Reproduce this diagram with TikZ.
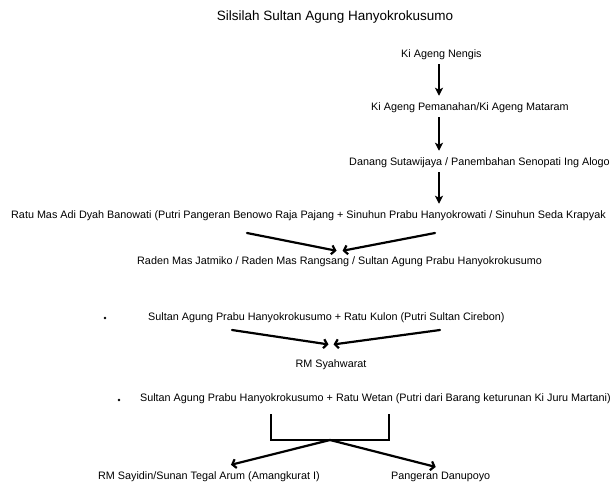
\documentclass[tikz,border=0pt]{standalone}
\usepackage{fontspec}
\setmainfont{Liberation Sans}
\usetikzlibrary{arrows.meta}

\begin{document}
\begin{tikzpicture}[x=1pt, y=-1pt, font=\fontsize{10.8}{13}\selectfont]
	\tikzstyle{person} = [inner sep=1pt, anchor=west]
	\tikzstyle{arrow} = [line width=2.1pt, -{Stealth[length=8pt,width=8pt,inset=2pt]}, shorten <=3pt, shorten >=6pt]
	\tikzstyle{branch} = [line width=2.2pt, line cap=round, -{Straight Barb[length=3.5pt,width=9pt]}]
	\tikzstyle{dot} = [circle, fill, inner sep=0pt, minimum size=2.6pt]
	
	\useasboundingbox (0,0) rectangle (613,482);
	
	% Title
	\node (title) [font=\fontsize{13.5}{16}\selectfont] at (335,17) {Silsilah Sultan Agung Hanyokrokusumo};
	
	% Line of descent
	\node (nengis) [person] at (400,55) {Ki Ageng Nengis};
	\node (pemanahan) [person] at (370,108) {Ki Ageng Pemanahan/Ki Ageng Mataram};
	\node (danang) [person] at (348,163) {Danang Sutawijaya / Panembahan Senopati Ing Alogo};
	\node (ratu) [person] at (10,216) {Ratu Mas Adi Dyah Banowati (Putri Pangeran Benowo Raja Pajang + Sinuhun Prabu Hanyokrowati / Sinuhun Seda Krapyak};
	\node (raden) [person] at (136,262) {Raden Mas Jatmiko / Raden Mas Rangsang / Sultan Agung Prabu Hanyokrokusumo};
	
	% First marriage
	\node (dot1) [dot] at (105,318) {};
	\node (kulon) [person] at (147,318) {Sultan Agung Prabu Hanyokrokusumo + Ratu Kulon (Putri Sultan Cirebon)};
	\node (syahwarat) at (331,365) {RM Syahwarat};
	
	% Second marriage
	\node (dot2) [dot] at (119,400) {};
	\node (wetan) [person, anchor=east] at (612,399) {Sultan Agung Prabu Hanyokrokusumo + Ratu Wetan (Putri dari Barang keturunan Ki Juru Martani)};
	\node (sayidin) [person] at (97,477) {RM Sayidin/Sunan Tegal Arum (Amangkurat I)};
	\node (danupoyo) [person] at (390,477) {Pangeran Danupoyo};
	
	% Free ends
	\coordinate (ratuL) at (247,233);
	\coordinate (ratuR) at (435,233);
	\coordinate (kulonL) at (232,330);
	\coordinate (kulonR) at (440,330);
	\coordinate (bl) at (271,414);
	\coordinate (br) at (389,414);
	\coordinate (fork) at (330,440);
	
	% Arrows
	\draw [arrow] (439,0 |- nengis.south) -- (439,0 |- pemanahan.north);
	\draw [arrow] (439,0 |- pemanahan.south) -- (439,0 |- danang.north);
	\draw [arrow] (439,0 |- danang.south) -- (439,0 |- ratu.north);
	
	\draw [branch] (ratuL) -- ([xshift=-3pt,yshift=5pt]raden.north);
	\draw [branch] (ratuR) -- ([xshift=3pt,yshift=5pt]raden.north);
	
	\draw [branch] (kulonL) -- ([xshift=-2.5pt,yshift=12pt]syahwarat.north);
	\draw [branch] (kulonR) -- ([xshift=2.5pt,yshift=12pt]syahwarat.north);
	
	\draw [line width=2.2pt] (bl) -- (bl |- fork) -- (br |- fork) -- (br);
	\draw [branch] (fork) -- ([xshift=22pt,yshift=6pt]sayidin.north);
	\draw [branch] (fork) -- ([xshift=-5pt,yshift=4pt]danupoyo.north);
\end{tikzpicture}
\end{document}
